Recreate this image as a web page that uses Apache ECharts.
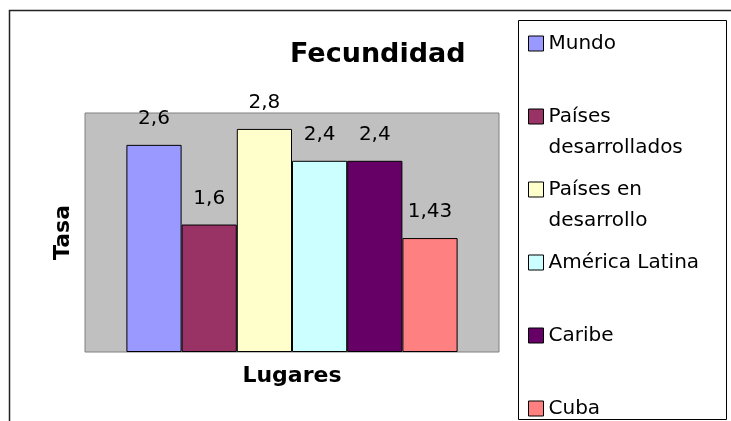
<!DOCTYPE html>
<html>
<head>
<meta charset="utf-8">
<title>Fecundidad</title>
<script src="https://cdn.jsdelivr.net/npm/echarts@6/dist/echarts.min.js"></script>
<style>
  html, body { margin: 0; padding: 0; background: #fff; }
  #chart { width: 731px; height: 421px; }
</style>
</head>
<body>
<div id="chart"></div>
<script>
var lugares = ['Mundo', 'Países desarrollados', 'Países en desarrollo', 'América Latina', 'Caribe', 'Cuba'];
var tasas = [2.6, 1.6, 2.8, 2.4, 2.4, 1.43];
var colores = ['#9999FF', '#993366', '#FFFFCC', '#CCFFFF', '#660066', '#FF8080'];
// texto de la leyenda, con el corte de linea como en el original
var leyenda = ['Mundo', 'Países\ndesarrollados', 'Países en\ndesarrollo', 'América Latina', 'Caribe', 'Cuba'];
var ejeMax = 3;

var fuente = 'DejaVu Sans';

var series = []
for (var i = 0; i < lugares.length; i++) {
  series.push({
    name: lugares[i],
    type: 'bar',
    barGap: 0,
    barCategoryGap: '20%',
    data: [tasas[i]],
    itemStyle: {
      color: colores[i],
      borderColor: '#000',
      borderWidth: 1
    },
    label: {
      show: true,
      position: 'top',
      distance: 16,
      color: '#000',
      fontFamily: fuente,
      fontSize: 20,
      formatter: function (p) {
        return String(p.value).replace('.', ',')
      }
    }
  })
}

var option = {
  animation: false,
  title: {
    text: 'Fecundidad',
    left: 290,
    top: 41,
    padding: 0,
    textStyle: {
      fontFamily: fuente,
      fontSize: 27,
      fontWeight: 'bold',
      color: '#000'
    }
  },
  graphic: [
    {
      type: 'rect',
      shape: { x: 9.5, y: 10.5, width: 800, height: 500 },
      style: { fill: 'none', stroke: '#222', lineWidth: 1.5 },
      silent: true
    },
    {
      type: 'rect',
      shape: { x: 518.5, y: 20.5, width: 208, height: 399 },
      style: { fill: 'none', stroke: '#000', lineWidth: 1 },
      silent: true
    }
  ],
  legend: {
    orient: 'vertical',
    left: 528,
    top: -3,
    height: 600,
    padding: 0,
    itemGap: -20,
    itemWidth: 15,
    itemHeight: 15,
    icon: 'rect',
    selectedMode: false,
    data: lugares,
    itemStyle: { borderColor: '#000', borderWidth: 1 },
    textStyle: {
      fontFamily: fuente,
      fontSize: 20,
      lineHeight: 31,
      color: '#000'
    },
    formatter: function (name) {
      var t = leyenda[lugares.indexOf(name)]
      if (t.indexOf('\n') < 0) {
        return ' \n' + t + '\n '
      }
      return ' \n' + t
    }
  },
  grid: {
    left: 85,
    right: 232,
    top: 113,
    bottom: 69,
    show: true,
    backgroundColor: '#C0C0C0',
    borderColor: '#808080',
    borderWidth: 1
  },
  xAxis: {
    type: 'category',
    data: [''],
    name: 'Lugares',
    nameLocation: 'middle',
    nameGap: 13,
    nameTextStyle: {
      fontFamily: fuente,
      fontSize: 22,
      fontWeight: 'bold',
      color: '#000'
    },
    axisLine: { show: false },
    axisTick: { show: false },
    axisLabel: { show: false }
  },
  yAxis: {
    type: 'value',
    min: 0,
    max: ejeMax,
    name: 'Tasa',
    nameLocation: 'middle',
    nameGap: 11,
    nameTextStyle: {
      fontFamily: fuente,
      fontSize: 22,
      fontWeight: 'bold',
      color: '#000'
    },
    axisLine: { show: false },
    axisTick: { show: false },
    axisLabel: { show: false },
    splitLine: { show: false }
  },
  series: series
}

var chart = echarts.init(document.getElementById('chart'));
chart.setOption(option);
</script>
</body>
</html>
